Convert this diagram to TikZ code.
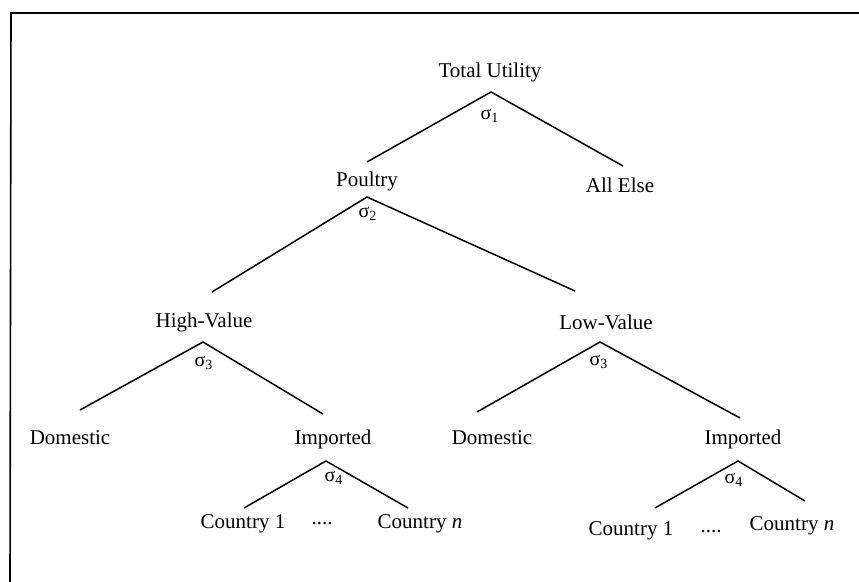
\documentclass[tikz,border=0pt]{standalone}
\usepackage{fontspec}
\setmainfont{Liberation Serif}
\usetikzlibrary{positioning}
\tikzstyle{level} = [font=\fontsize{10.5}{12}\selectfont, inner sep=0pt]
\tikzstyle{elast} = [font=\fontsize{10}{12}\selectfont, inner sep=0pt]
\tikzstyle{branch} = [line width=0.75pt]
\tikzstyle{frame} = [line width=0.8pt]

\begin{document}
\begin{tikzpicture}[x=0.5pt, y=-0.5pt]
        \useasboundingbox (0,0) rectangle (859,582);
        % Marco (solo arriba e izquierda)
        \coordinate (fTL) at (11,13);
        \coordinate (fTR) at (859,13);
        \coordinate (fBL) at (10,582);
        \draw [frame] (fBL) -- (fTL) -- (fTR);

        % Nodos de texto
        \node (total) [level] at (490,72) {Total Utility};
        \node (poultry) [level] at (367,181) {Poultry};
        \node (allelse) [level] at (620,185) {All Else};
        \node (high) [level] at (204,322) {High-Value};
        \node (low) [level] at (606,322) {Low-Value};
        \node (domH) [level] at (70,438) {Domestic};
        \node (impH) [level] at (333,439) {Imported};
        \node (domL) [level] at (492,438) {Domestic};
        \node (impL) [level] at (743,439) {Imported};
        \node (c1H) [level] at (243,524) {Country 1};
        \node (dotsH) [level] at (322,524) {....};
        \node (cnH) [level] at (420,524) {Country \textit{n}};
        \node (c1L) [level] at (631,531) {Country 1};
        \node (dotsL) [level] at (711,532) {....};
        \node (cnL) [level] at (792,526) {Country \textit{n}};

        % Sigmas
        \node (s1) [elast] at (490,116) {σ\textsubscript{1}};
        \node (s2) [elast] at (368,214) {σ\textsubscript{2}};
        \node (s3H) [elast] at (204,363) {σ\textsubscript{3}};
        \node (s3L) [elast] at (599,362) {σ\textsubscript{3}};
        \node (s4H) [elast] at (334,478) {σ\textsubscript{4}};
        \node (s4L) [elast] at (734,480) {σ\textsubscript{4}};

        % Vertices y extremos de las ramas
        \coordinate (totalA) at (491,92);
        \coordinate (poultryA) at (367,197);
        \coordinate (highA) at (203,342);
        \coordinate (lowA) at (600,342);
        \coordinate (impHA) at (326,461);
        \coordinate (impLA) at (738,461);

        \coordinate (poultryE) at (367,162);
        \coordinate (allelseE) at (623,166);
        \coordinate (highE) at (212,292);
        \coordinate (lowE) at (575,291);
        \coordinate (domHE) at (80,410);
        \coordinate (impHE) at (323,414);
        \coordinate (domLE) at (477,412);
        \coordinate (impLE) at (740,418);
        \coordinate (c1HE) at (244,508);
        \coordinate (cnHE) at (408,508);
        \coordinate (c1LE) at (655,508);
        \coordinate (cnLE) at (805,501);

        % Ramas
        \draw [branch] (poultryE) -- (totalA) -- (allelseE);
        \draw [branch] (highE) -- (poultryA) -- (lowE);
        \draw [branch] (domHE) -- (highA) -- (impHE);
        \draw [branch] (domLE) -- (lowA) -- (impLE);
        \draw [branch] (c1HE) -- (impHA) -- (cnHE);
        \draw [branch] (c1LE) -- (impLA) -- (cnLE);

    \end{tikzpicture}
\end{document}
